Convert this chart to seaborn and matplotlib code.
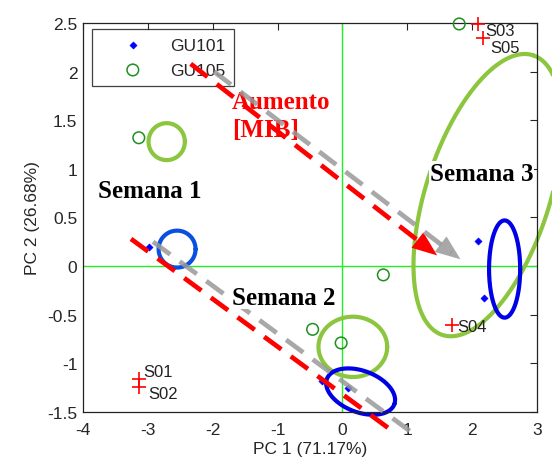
import numpy as np
import pandas as pd
import matplotlib
matplotlib.use("Agg")
import matplotlib.pyplot as plt
import seaborn as sns

# --- data ---
gu101_x = [-2.98, -0.31, 0.09, 2.09, 2.18]
gu101_y = [0.20, -1.18, -1.25, 0.26, -0.33]
gu105_x = [-3.14, 1.80, 0.63, -0.02, -0.46]
gu105_y = [1.32, 2.49, -0.09, -0.79, -0.65]

ref_labels = ["S01", "S02", "S03", "S04", "S05"]
ref_x = [-3.14, -3.14, 2.09, 1.69, 2.17]
ref_y = [-1.16, -1.24, 2.49, -0.61, 2.35]
ref_offsets = [(3, 5), (7, -5), (5, -5), (4, -1), (5, -7)]

# ellipses: centre, two conjugate semi-diameters (data units), colour
ell_cx = [-2.71, 0.16, 2.24, -2.55, 0.28, 2.50]
ell_cy = [1.28, -0.83, 0.73, 0.175, -1.29, -0.03]
ell_u = [(0.28, 0.0), (0.53, 0.0), (0.699, 1.438), (0.285, 0.0), (0.52, -0.13), (0.24, 0.0)]
ell_v = [(0.0, 0.19), (0.0, 0.31), (-0.907, 0.197), (0.0, 0.19), (0.11, 0.20), (0.0, 0.50)]
ell_col = ["#8cc63f", "#8cc63f", "#8cc63f", "#0a50e0", "#0000e6", "#0000e6"]

# dashed trend lines (start, end) and whether they carry an arrow head
trend_x0 = [-2.34, -1.98, -3.26, -2.92]
trend_y0 = [2.08, 2.00, 0.28, 0.25]
trend_x1 = [1.46, 1.82, 0.82, 1.15]
trend_y1 = [0.11, 0.07, -1.72, -1.75]
trend_col = ["#ff0000", "#999999", "#ff0000", "#999999"]
trend_head = [True, True, False, False]

week_text = ["Semana 1", "Semana 2", "Semana 3"]
week_x = [-3.77, -1.70, 1.35]
week_y = [0.78, -0.32, 0.95]

xticks = [-4, -3, -2, -1, 0, 1, 2, 3]
yticks = [-1.5, -1, -0.5, 0, 0.5, 1, 1.5, 2, 2.5]
yticklabels = ["-1.5", "-1", "-0.5", "0", "0.5", "1", "1.5", "2", "2.5"]

sns.set_style("white")
plt.rcParams["font.family"] = ["Liberation Sans", "DejaVu Sans"]
FS = 12.5

fig = plt.figure(figsize=(5.52, 4.64), dpi=100)
ax = fig.add_axes([0.1504, 0.1099, 0.8225, 0.8384])

ax.axvline(0, color="#22ee22", lw=1.0, zorder=1)
ax.axhline(0, color="#22ee22", lw=1.0, zorder=1)

pts = pd.DataFrame({
    "x": gu101_x + gu105_x,
    "y": gu101_y + gu105_y,
    "grupo": ["GU101"] * len(gu101_x) + ["GU105"] * len(gu105_x),
})
sns.scatterplot(data=pts[pts.grupo == "GU101"], x="x", y="y", marker="D", s=14,
                color="#0000ff", edgecolor="#0000ff", label="GU101", ax=ax,
                clip_on=False, zorder=3)
sns.scatterplot(data=pts[pts.grupo == "GU105"], x="x", y="y", marker="o", s=70,
                facecolor="none", edgecolor="#1f8f1f", linewidth=1.1, label="GU105",
                ax=ax, clip_on=False, zorder=3)
sns.scatterplot(x=ref_x, y=ref_y, marker="+", s=110, color="#ff0000", linewidth=1.2,
                ax=ax, clip_on=False, zorder=3)
for lab, x, y, off in zip(ref_labels, ref_x, ref_y, ref_offsets):
    ax.annotate(lab, (x, y), xytext=off, textcoords="offset points", fontsize=12,
                color="#222222", ha="left", va="center", annotation_clip=False)

t = np.linspace(0, 2 * np.pi, 240)
for cx, cy, u, v, c in zip(ell_cx, ell_cy, ell_u, ell_v, ell_col):
    ex = cx + u[0] * np.cos(t) + v[0] * np.sin(t)
    ey = cy + u[1] * np.cos(t) + v[1] * np.sin(t)
    ax.plot(ex, ey, color=c, lw=3.0, clip_on=False, zorder=2)

ax.text(-1.7, 1.69, "Aumento", fontsize=18, fontweight="bold", family="Liberation Serif",
        color="#ff0000", ha="left", va="center", zorder=5.5)
ax.text(-1.7, 1.40, "[MIB]", fontsize=18, fontweight="bold", family="Liberation Serif",
        color="#ff0000", ha="left", va="center", zorder=5.5)

for x0, y0, x1, y1, c, head in zip(trend_x0, trend_y0, trend_x1, trend_y1,
                                   trend_col, trend_head):
    alpha = 0.85 if c == "#999999" else 1.0
    if head:
        bx = x1 - 0.17 * (x1 - x0) / np.hypot(x1 - x0, (y1 - y0) * 1.5)
        by = y1 - 0.17 * (y1 - y0) / np.hypot(x1 - x0, (y1 - y0) * 1.5)
        ax.plot([x0, bx], [y0, by], color=c, lw=3.4, dashes=(4.5, 2.5), alpha=alpha,
                clip_on=False, zorder=6, dash_capstyle="butt")
        ax.annotate("", xy=(x1, y1), xytext=(bx, by),
                    arrowprops=dict(arrowstyle="-|>,head_length=0.9,head_width=0.35",
                                    color=c, lw=0, alpha=alpha, shrinkA=0, shrinkB=0,
                                    mutation_scale=20),
                    annotation_clip=False, zorder=6)
    else:
        ax.plot([x0, x1], [y0, y1], color=c, lw=3.4, dashes=(4.5, 2.5), alpha=alpha,
                clip_on=False, zorder=6, dash_capstyle="butt")

for txt, x, y in zip(week_text, week_x, week_y):
    ax.text(x, y, txt, fontsize=18, fontweight="bold", family="Liberation Serif",
            color="black", ha="left", va="center", zorder=7,
            bbox=dict(facecolor="white", edgecolor="none", pad=0.5))

ax.set_xlim(-4, 3)
ax.set_ylim(-1.5, 2.5)
ax.set_xticks(xticks)
ax.set_xticklabels([str(v) for v in xticks])
ax.set_yticks(yticks)
ax.set_yticklabels(yticklabels)
ax.tick_params(direction="in", top=True, right=True, length=5, width=0.8,
               labelsize=FS, labelcolor="#262626")
ax.tick_params(axis="x", pad=7)
ax.tick_params(axis="y", pad=4)
for s in ax.spines.values():
    s.set_color("#222222")
    s.set_linewidth(0.9)
ax.set_xlabel("PC 1 (71.17%)", fontsize=FS, color="#262626", labelpad=3)
ax.set_ylabel("PC 2 (26.68%)", fontsize=FS, color="#262626", labelpad=5)

leg = ax.legend(loc="upper left", bbox_to_anchor=(0.0198, 0.9846), frameon=True,
                fancybox=False, fontsize=FS, handlelength=3.7, handletextpad=0.3,
                borderpad=0.5, labelspacing=0.55, borderaxespad=0)
leg.get_frame().set_edgecolor("#111111")
leg.get_frame().set_linewidth(0.9)
for txt in leg.get_texts():
    txt.set_color("#262626")

fig.savefig("out.png", dpi=100)
